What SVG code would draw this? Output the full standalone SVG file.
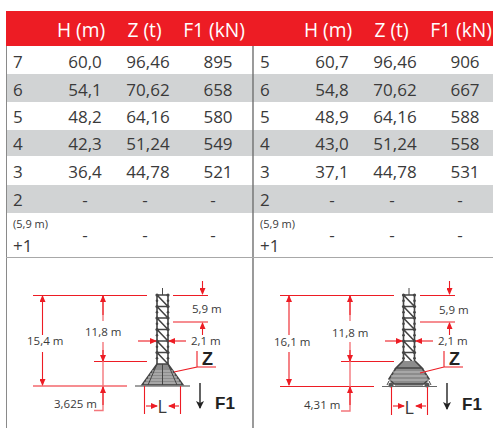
<svg xmlns="http://www.w3.org/2000/svg" width="493" height="428" viewBox="0 0 493 428">
<defs>
<marker id="ah" markerWidth="7" markerHeight="6" refX="6" refY="3" orient="auto-start-reverse" markerUnits="userSpaceOnUse"><path d="M0 0L7 3L0 6Z" fill="#ed1c24"/></marker>
<marker id="bh" markerWidth="8" markerHeight="8" refX="7" refY="4" orient="auto" markerUnits="userSpaceOnUse"><path d="M0 0L8 4L0 8L2 4Z" fill="#222"/></marker>
<g id="cell"><path d="M0 0H11M0 0V11.5M11 0V11.5M0 0L11 11.5" fill="none" stroke="#444" stroke-width="1.6"/><circle cx="0" cy="0" r="1.6" fill="#444"/><circle cx="11" cy="0" r="1.6" fill="#444"/><circle cx="0" cy="5.7" r="1.3" fill="#444"/><circle cx="11" cy="5.7" r="1.3" fill="#444"/></g>
</defs>
<style>
text{font-family:"Open Sans","Noto Sans","Liberation Sans",sans-serif;fill:#3a3a3a}
.h{font-size:19.2px;fill:#fff;text-anchor:middle}
.d{font-size:17px;text-anchor:middle}
.l{font-size:17px}
.s{font-size:11px}
.m{font-size:11.5px}
.b{font-family:"Liberation Sans",Arial,sans-serif;font-weight:bold;fill:#222}
.r{stroke:#ed1c24;stroke-width:1.1;fill:none}
.p{stroke:#f4777c;stroke-width:1.4;fill:none}
.a{marker-end:url(#ah)}
.g{stroke:#4a4a4a;fill:none}
</style>
<rect width="493" height="428" fill="#fff"/>
<g id="table-frame">
<rect x="6" y="11" width="487" height="35" fill="#ed1c24"/>
<rect x="6" y="74" width="487" height="28" fill="#d1d3d4"/>
<rect x="6" y="130" width="487" height="26" fill="#d1d3d4"/>
<rect x="6" y="185" width="487" height="28" fill="#d1d3d4"/>
<path d="M6.500 46V428" stroke="#8a8a8a" fill="none"/>
<path d="M253 46V428" stroke="#707070" stroke-width="1.4" fill="none"/>
<path d="M6 257.500H493" stroke="#a8a8a8" fill="none"/>
</g>
<g id="table-left">
<text class="h" x="81" y="37">H (m)</text><text class="h" x="144.500" y="37">Z (t)</text><text class="h" x="214" y="37">F1 (kN)</text>
<text class="l" x="13" y="68">7</text><text class="d" x="85" y="68">60,0</text><text class="d" x="148" y="68">96,46</text><text class="d" x="218" y="68">895</text>
<text class="l" x="13" y="96">6</text><text class="d" x="85" y="96">54,1</text><text class="d" x="148" y="96">70,62</text><text class="d" x="218" y="96">658</text>
<text class="l" x="13" y="123">5</text><text class="d" x="85" y="123">48,2</text><text class="d" x="148" y="123">64,16</text><text class="d" x="218" y="123">580</text>
<text class="l" x="13" y="150">4</text><text class="d" x="85" y="150">42,3</text><text class="d" x="148" y="150">51,24</text><text class="d" x="218" y="150">549</text>
<text class="l" x="13" y="178">3</text><text class="d" x="85" y="178">36,4</text><text class="d" x="148" y="178">44,78</text><text class="d" x="218" y="178">521</text>
<text class="l" x="13" y="206">2</text><text class="d" x="85" y="206">-</text><text class="d" x="145" y="206">-</text><text class="d" x="213" y="206">-</text>
<text class="s" x="13" y="228">(5,9 m)</text><text class="l" x="13" y="251.500">+1</text><text class="d" x="85" y="241">-</text><text class="d" x="145" y="241">-</text><text class="d" x="213" y="241">-</text>
</g>
<g id="table-right">
<text class="h" x="328" y="37">H (m)</text><text class="h" x="391.500" y="37">Z (t)</text><text class="h" x="461" y="37">F1 (kN)</text>
<text class="l" x="260" y="68">5</text><text class="d" x="332" y="68">60,7</text><text class="d" x="395" y="68">96,46</text><text class="d" x="465" y="68">906</text>
<text class="l" x="260" y="96">6</text><text class="d" x="332" y="96">54,8</text><text class="d" x="395" y="96">70,62</text><text class="d" x="465" y="96">667</text>
<text class="l" x="260" y="123">5</text><text class="d" x="332" y="123">48,9</text><text class="d" x="395" y="123">64,16</text><text class="d" x="465" y="123">588</text>
<text class="l" x="260" y="150">4</text><text class="d" x="332" y="150">43,0</text><text class="d" x="395" y="150">51,24</text><text class="d" x="465" y="150">558</text>
<text class="l" x="260" y="178">3</text><text class="d" x="332" y="178">37,1</text><text class="d" x="395" y="178">44,78</text><text class="d" x="465" y="178">531</text>
<text class="l" x="260" y="206">2</text><text class="d" x="332" y="206">-</text><text class="d" x="392" y="206">-</text><text class="d" x="460" y="206">-</text>
<text class="s" x="260" y="228">(5,9 m)</text><text class="l" x="260" y="251.500">+1</text><text class="d" x="332" y="241">-</text><text class="d" x="392" y="241">-</text><text class="d" x="460" y="241">-</text>
</g>
<g id="tower-left">
<path class="g" d="M162.500 288V295" stroke="#888"/>
<use href="#cell" x="157" y="295"/><use href="#cell" x="157" y="306.500"/><use href="#cell" x="157" y="318"/><use href="#cell" x="157" y="329.500"/><use href="#cell" x="157" y="341"/><use href="#cell" x="157" y="352.500"/>
<path d="M157 364H168L183 385H142Z" fill="#8c8c8c" stroke="#444" stroke-width="1.6"/>
<path d="M152 371H173M150 374H175M148 377H177M146 380H179M144 383H181" stroke="#c8c8c8" stroke-width=".9" fill="none"/>
<path d="M157 364L148 385M168 364L177 385M162.500 364V385" stroke="#444" stroke-width="1" fill="none"/>
<path d="M135 386H190" stroke="#808080" stroke-width="1.6"/>
</g>
<g id="tower-right">
<path class="g" d="M409 288V295" stroke="#888"/>
<use href="#cell" x="403.500" y="295"/><use href="#cell" x="403.500" y="306.500"/><use href="#cell" x="403.500" y="318"/><use href="#cell" x="403.500" y="329.500"/><use href="#cell" x="403.500" y="341"/><use href="#cell" x="403.500" y="352.500"/>
<path d="M403 361L396 368H422L415 361M396 368H422L429 379L424 384H394L389 379Z" fill="#8c8c8c" stroke="#444" stroke-width="1.6"/>
<path d="M393 372H425M391 376H427M389 380H429" stroke="#c8c8c8" stroke-width=".9" fill="none"/>
<path d="M389 381L387 385M429 381L431 385M395 385H423" stroke="#444" fill="none"/>
<circle cx="391" cy="385" r="2.500" fill="#555"/><circle cx="427" cy="385" r="2.500" fill="#555"/>
<path d="M382 386.500H437" stroke="#666" stroke-width="1.2"/>
</g>
<g id="connectors">
<path class="r" d="M33 295.500H147M33 386H127M94 361.500H147M173 295.500H208M173 322H208M197 367H216M197 351V367L174 372M144.500 386V414M180.500 386V414"/>
<path class="p" d="M103 296V321M103 342V410.500H94"/>
<path class="r a" d="M42.500 335V296"/><path class="r a" d="M42.500 352V385"/>
<path class="r a" d="M103 315V296"/><path class="r a" d="M103 350V361"/><path class="r a" d="M103 405V387"/>
<path class="r a" d="M202.500 281V294"/><path class="r a" d="M202.500 335V323"/>
<path class="r a" d="M138 341H156"/><path class="r a" d="M186 341H169"/>
<path class="r a" d="M146 406H157"/><path class="r a" d="M179 406H169"/>
<path d="M200 383V408" stroke="#222" stroke-width="1.4" marker-end="url(#bh)" fill="none"/>
<path class="r" d="M280 295.500H394M280 386.500H374M341 361.500H394M420 295.500H455M420 322H455M444 351V367H463M444 367L420 373M391.500 387V415M427.500 387V415"/>
<path class="p" d="M350 296V321M350 342V411H341"/>
<path class="r a" d="M289 335V296"/><path class="r a" d="M289 352V385"/>
<path class="r a" d="M350 315V296"/><path class="r a" d="M350 350V361"/><path class="r a" d="M350 405V387"/>
<path class="r a" d="M449.500 281V294"/><path class="r a" d="M449.500 335V323"/>
<path class="r a" d="M385 341H402"/><path class="r a" d="M433 341H416"/>
<path class="r a" d="M393 406H404"/><path class="r a" d="M426 406H416"/>
<path d="M447 383V409" stroke="#222" stroke-width="1.4" marker-end="url(#bh)" fill="none"/>
</g>
<g id="labels-left">
<text class="m" x="27" y="345">15,4 m</text><text class="m" x="85" y="336">11,8 m</text><text class="m" x="54" y="408">3,625 m</text>
<text class="m" x="192" y="313">5,9 m</text><text class="m" x="191" y="344.500">2,1 m</text>
<text class="b" x="202" y="364.500" style="font-size:18px">Z</text>
<text x="157.500" y="412.500" style="font-size:18px">L</text>
<text class="b" x="215" y="409" style="font-size:17px">F1</text>
</g>
<g id="labels-right">
<text class="m" x="274" y="346">16,1 m</text><text class="m" x="332" y="337">11,8 m</text><text class="m" x="304" y="409">4,31 m</text>
<text class="m" x="439" y="314">5,9 m</text><text class="m" x="438" y="345">2,1 m</text>
<text class="b" x="449" y="365" style="font-size:18px">Z</text>
<text x="404.500" y="413.500" style="font-size:18px">L</text>
<text class="b" x="462" y="410" style="font-size:17px">F1</text>
</g>
</svg>
